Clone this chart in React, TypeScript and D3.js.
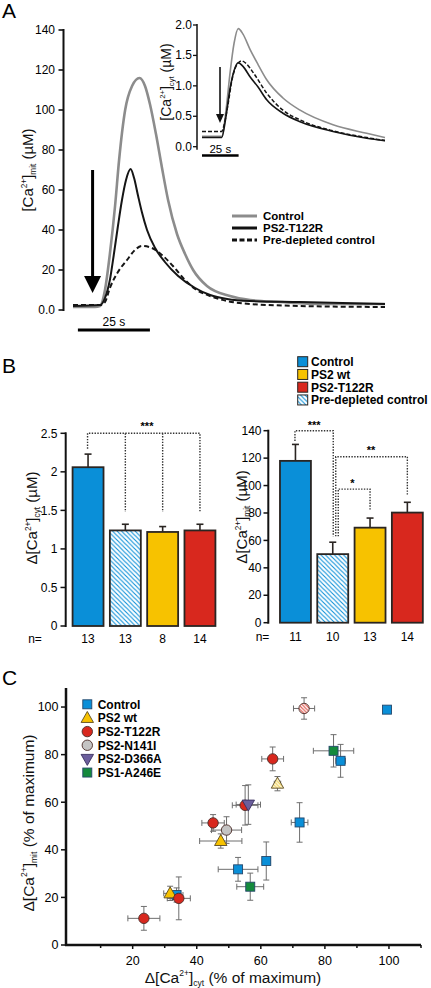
import React from 'react';
import * as d3 from 'd3';

const FONT = "'Liberation Sans', Arial, Helvetica, sans-serif";

// ---------- Panel A: mitochondrial Ca2+ traces (time s, µM) ----------
const mitControl: [number, number][] = [[0,1.5],[7.6,1.5],[9.4,2],[11.1,10],[12.8,28],[14.6,52],[16,75],[18.1,100],[20.5,112],[23.1,116],[25,112],[26.7,103],[28.8,88],[30.9,71],[33,55],[36.1,38],[38.9,28],[41.7,20],[46.5,12],[54.5,7],[61.5,5],[71.9,4],[85.8,3],[108.3,3]];
const mitT122R: [number, number][] = [[0,2],[9.4,2.5],[11.1,6],[12.8,15],[14.2,28],[15.6,42],[17,55],[18.4,65],[20,70.5],[21.2,66],[22.6,57],[23.9,49],[25.7,40],[28.5,31],[31.9,24],[36.5,17],[42.4,11],[47.6,7.5],[53.5,5.5],[61.5,4.5],[78.8,4],[108.3,3]];
const mitPredepleted: [number, number][] = [[0,2.5],[9.4,2.5],[11.1,4],[12.8,11],[15.6,19],[18.75,25],[21.5,30],[23.9,32],[27.4,31],[31.3,27],[34.7,22],[38.9,15],[42.4,10.5],[47.6,7],[59,3.3],[78.8,2],[108.3,1.5]];
const mitTicks = [0, 20, 40, 60, 80, 100, 120, 140];

// ---------- Panel A inset: cytosolic Ca2+ traces (time s, µM) ----------
const cytControl: [number, number][] = [[0,0.17],[13.5,0.17],[16.4,0.6],[19.1,1.2],[21.9,1.7],[24.8,1.94],[28,1.85],[32.8,1.6],[38.3,1.35],[44.2,1.1],[55.3,0.8],[67,0.6],[89.5,0.36],[112.5,0.22],[125,0.15]];
const cytT122R: [number, number][] = [[0,0.15],[13.5,0.15],[16.4,0.5],[19.1,0.95],[21.9,1.25],[24.8,1.38],[28,1.32],[32.8,1.15],[38.3,0.98],[44.2,0.77],[55.3,0.55],[67,0.41],[89.5,0.25],[112.5,0.14],[125,0.1]];
const cytPredepleted: [number, number][] = [[0,0.25],[13.5,0.25],[15,0.35],[17.8,0.7],[20.5,1.1],[23.9,1.35],[27.1,1.41],[30,1.37],[35.5,1.2],[44.2,0.88],[55.3,0.6],[67,0.44],[89.5,0.26],[112.5,0.15],[125,0.1]];
const cytTicks = [0, 0.5, 1, 1.5, 2];
const legendA = ['Control', 'PS2-T122R', 'Pre-depleted control'];

// ---------- Panel B: bar charts ----------
const bCategories = ['Control', 'Pre-depleted control', 'PS2 wt', 'PS2-T122R'];
const cytMeans = [2.06, 1.24, 1.22, 1.24];
const cytErrs = [0.17, 0.08, 0.07, 0.08];
const cytN = [13, 13, 8, 14];
const cytBarTicks = [0, 0.5, 1, 1.5, 2, 2.5];
const mitMeans = [118, 50, 69.3, 80.3];
const mitErrs = [12, 8.7, 7, 7.5];
const mitN = [11, 10, 13, 14];
const mitBarTicks = [0, 20, 40, 60, 80, 100, 120, 140];
const legendB = ['Control', 'PS2 wt', 'PS2-T122R', 'Pre-depleted control'];

// ---------- Panel C: scatter [x, y, ex, ey] ----------
const cControl = [[99.4, 98.9, 0, 0], [84.9, 77.4, 1.5, 6.9], [72.1, 51.5, 2.6, 8.3], [61.7, 35.3, 1.2, 8], [52.9, 31.8, 6.2, 5], [33.7, 21, 2, 3]];
const cPS2wt = [[47.5, 43.7, 6.6, 3], [31.7, 21.7, 2, 3]];
const cPS2wtHatched = [[65.2, 67.8, 1, 3]];
const cT122R = [[63.7, 78.2, 3.4, 5], [55.1, 58.7, 4, 8.3], [45.1, 51.3, 3.5, 3.5], [34.4, 19.6, 3.6, 9], [23.5, 11.2, 5, 5]];
const cT122RHatched = [[73.5, 99.4, 3.3, 4.5]];
const cN141I = [[49.3, 48.3, 4.7, 5.6]];
const cD366A = [[56.1, 59, 3.8, 8.3]];
const cA246E = [[82.7, 81.6, 6.3, 6.8], [56.7, 24.5, 4.2, 5.7]];
const cYTicks = [0, 20, 40, 60, 80, 100];
const cXTicks = [20, 40, 60, 80, 100];
const cXMinor = [10, 30, 50, 70, 90, 110];
const legendC = ['Control', 'PS2 wt', 'PS2-T122R', 'PS2-N141I', 'PS2-D366A', 'PS1-A246E'];

const BLUE = '#0a8fd8';
const YELLOW = '#f7c200';
const RED = '#d8281e';
const GRAY_PT = '#c4c4c4';
const PURPLE = '#6b5e9c';
const GREEN = '#148a3c';
const OUT = '#2a2522';

function CaLabel({ x, y, size, pre = '', sub, post, rotate = false, anchor = 'middle' }: any) {
  const s = size;
  return (
    <text x={x} y={y} fontSize={s} fontFamily={FONT} textAnchor={anchor}
      transform={rotate ? `rotate(-90 ${x} ${y})` : undefined} fill="#111">
      {pre}[Ca
      <tspan dy={-s * 0.42} fontSize={s * 0.55}>2+</tspan>
      <tspan dy={s * 0.42}>]</tspan>
      <tspan dy={s * 0.22} fontSize={s * 0.55}>{sub}</tspan>
      <tspan dy={-s * 0.22}>{post}</tspan>
    </text>
  );
}

function Marker({ kind, x, y, fill }: any) {
  if (kind === 'square') return <rect x={x - 4.5} y={y - 4.5} width={9} height={9} fill={fill} stroke="#24476b" strokeWidth={0.9} />;
  if (kind === 'circle') return <circle cx={x} cy={y} r={5.2} fill={fill} stroke="#4a2a26" strokeWidth={0.9} />;
  if (kind === 'up') return <path d={`M${x},${y - 6.5}L${x + 6.2},${y + 4.5}L${x - 6.2},${y + 4.5}Z`} fill={fill} stroke="#5a4a20" strokeWidth={0.9} />;
  if (kind === 'down') return <path d={`M${x},${y + 6.5}L${x + 6.2},${y - 4.5}L${x - 6.2},${y - 4.5}Z`} fill={fill} stroke="#3a3060" strokeWidth={0.9} />;
  return null;
}

export default function App() {
  // ---- Panel A scales ----
  const ax = d3.scaleLinear().domain([0, 108.3]).range([73, 385]);
  const ay = d3.scaleLinear().domain([0, 140]).range([310, 30]);
  const ix = d3.scaleLinear().domain([0, 125]).range([202, 385]);
  const iy = d3.scaleLinear().domain([0, 2]).range([146.7, 25]);
  const lineA = d3.line<[number, number]>().x(d => ax(d[0])).y(d => ay(d[1])).curve(d3.curveMonotoneX);
  const lineI = d3.line<[number, number]>().x(d => ix(d[0])).y(d => iy(d[1])).curve(d3.curveMonotoneX);

  const arrowX = ax(6.8), arrowTop = ay(70), arrowTip = ay(8.5);
  const iArrowX = ix(12.3), iArrowTop = iy(1.31), iArrowTip = iy(0.39);

  // ---- Panel B scales ----
  const bx1 = d3.scaleBand().domain(bCategories).range([69.4, 218.6]).paddingInner(0.17).paddingOuter(0.085);
  const by1 = d3.scaleLinear().domain([0, 2.5]).range([626, 433.3]);
  const bx2 = d3.scaleBand().domain(bCategories).range([276.8, 426]).paddingInner(0.17).paddingOuter(0.085);
  const by2 = d3.scaleLinear().domain([0, 140]).range([622.7, 430.7]);
  const fills = [BLUE, 'url(#hatchBlue)', YELLOW, RED];
  const c1 = (i: number) => (bx1(bCategories[i]) as number) + bx1.bandwidth() / 2;
  const c2 = (i: number) => (bx2(bCategories[i]) as number) + bx2.bandwidth() / 2;

  // ---- Panel C scales ----
  const cx = d3.scaleLinear().domain([0, 110]).range([68.6, 421]);
  const cy = d3.scaleLinear().domain([0, 108]).range([945, 688]);

  const dotted = { stroke: '#333', strokeWidth: 1.4, strokeDasharray: '1.4,1.4', fill: 'none' };

  const errBars = (pts: number[][], key: string) => pts.map((p, i) => {
    const [x, y, ex, ey] = p;
    const col = '#6e6e6e';
    return (
      <g key={key + i} stroke={col} strokeWidth={1}>
        {ex > 0 && <>
          <line x1={cx(x - ex)} x2={cx(x + ex)} y1={cy(y)} y2={cy(y)} />
          <line x1={cx(x - ex)} x2={cx(x - ex)} y1={cy(y) - 3} y2={cy(y) + 3} />
          <line x1={cx(x + ex)} x2={cx(x + ex)} y1={cy(y) - 3} y2={cy(y) + 3} />
        </>}
        {ey > 0 && <>
          <line x1={cx(x)} x2={cx(x)} y1={cy(y - ey)} y2={cy(y + ey)} />
          <line x1={cx(x) - 3} x2={cx(x) + 3} y1={cy(y - ey)} y2={cy(y - ey)} />
          <line x1={cx(x) - 3} x2={cx(x) + 3} y1={cy(y + ey)} y2={cy(y + ey)} />
        </>}
      </g>
    );
  });

  const allPts = [cA246E, cControl, cN141I, cPS2wt, cPS2wtHatched, cT122R, cT122RHatched, cD366A];

  return (
    <svg width={431} height={988} viewBox="0 0 431 988" style={{ position: 'absolute', left: 0, top: 0, background: '#fff' }}>
      <defs>
        <pattern id="hatchBlue" patternUnits="userSpaceOnUse" width={4.5} height={4.5}>
          <rect width={4.5} height={4.5} fill="#fff" />
          <path d="M-1,-1L5.5,5.5M-1,3.5L1,5.5M3.5,-1L5.5,1" stroke={BLUE} strokeWidth={1.1} />
        </pattern>
        <pattern id="hatchRed" patternUnits="userSpaceOnUse" width={3.5} height={3.5}>
          <rect width={3.5} height={3.5} fill="#fff" />
          <path d="M-1,-1L4.5,4.5M-1,2.5L1,4.5M2.5,-1L4.5,1" stroke="#e05a50" strokeWidth={1.1} />
        </pattern>
        <pattern id="hatchYellow" patternUnits="userSpaceOnUse" width={3.5} height={3.5}>
          <rect width={3.5} height={3.5} fill="#fffbe0" />
          <path d="M-1,-1L4.5,4.5M-1,2.5L1,4.5M2.5,-1L4.5,1" stroke="#f0d060" strokeWidth={1.1} />
        </pattern>
      </defs>

      {/* ================= Panel A ================= */}
      <text x={2} y={18} fontSize={21} fontFamily={FONT}>A</text>
      <line x1={63.5} x2={63.5} y1={ay(140) - 1} y2={ay(0) + 1} stroke="#111" strokeWidth={2} />
      {mitTicks.map(t => (
        <g key={'mt' + t}>
          <line x1={58.5} x2={63.5} y1={ay(t)} y2={ay(t)} stroke="#111" strokeWidth={1.6} />
          <text x={55} y={ay(t) + 4.2} fontSize={12} fontFamily={FONT} textAnchor="end">{t === 0 ? '0.0' : t}</text>
        </g>
      ))}
      <CaLabel x={33} y={170} size={15} sub="mit" post=" (µM)" rotate />

      <path d={lineA(mitControl) as string} fill="none" stroke="#8c8c8c" strokeWidth={2.6} />
      <path d={lineA(mitPredepleted) as string} fill="none" stroke="#151515" strokeWidth={2} strokeDasharray="5,3" />
      <path d={lineA(mitT122R) as string} fill="none" stroke="#151515" strokeWidth={2} />

      <line x1={arrowX} x2={arrowX} y1={arrowTop} y2={arrowTip - 15} stroke="#000" strokeWidth={3} />
      <path d={`M${arrowX},${arrowTip}L${arrowX - 8.5},${arrowTip - 17}L${arrowX + 8.5},${arrowTip - 17}Z`} fill="#000" />
      <line x1={ax(1.7)} x2={ax(26.7)} y1={330} y2={330} stroke="#000" strokeWidth={3} />
      <text x={(ax(1.7) + ax(26.7)) / 2} y={326} fontSize={12} fontFamily={FONT} textAnchor="middle">25 s</text>

      {/* Inset */}
      <line x1={197} x2={197} y1={iy(2) - 1} y2={iy(-0.05)} stroke="#111" strokeWidth={1.5} />
      {cytTicks.map(t => (
        <g key={'ct' + t}>
          <line x1={193} x2={197} y1={iy(t)} y2={iy(t)} stroke="#111" strokeWidth={1.3} />
          <text x={192} y={iy(t) + 4} fontSize={12} fontFamily={FONT} textAnchor="end">{d3.format('.1f')(t)}</text>
        </g>
      ))}
      <CaLabel x={171} y={82} size={14} sub="cyt" post=" (µM)" rotate />
      <path d={lineI(cytControl) as string} fill="none" stroke="#8c8c8c" strokeWidth={1.6} />
      <path d={lineI(cytPredepleted) as string} fill="none" stroke="#151515" strokeWidth={1.5} strokeDasharray="4,2" />
      <path d={lineI(cytT122R) as string} fill="none" stroke="#151515" strokeWidth={1.6} />
      <line x1={iArrowX} x2={iArrowX} y1={iArrowTop} y2={iArrowTip - 8} stroke="#111" strokeWidth={1.6} />
      <path d={`M${iArrowX},${iArrowTip}L${iArrowX - 4},${iArrowTip - 9}L${iArrowX + 4},${iArrowTip - 9}Z`} fill="#111" />
      <line x1={ix(0)} x2={ix(25)} y1={155.5} y2={155.5} stroke="#000" strokeWidth={2.5} />
      <text x={(ix(0) + ix(25)) / 2} y={152.5} fontSize={11.5} fontFamily={FONT} textAnchor="middle">25 s</text>

      {/* Legend A */}
      {legendA.map((name, i) => {
        const y = 216 + i * 12;
        return (
          <g key={name}>
            <line x1={232} x2={257} y1={y} y2={y} stroke={i === 0 ? '#8c8c8c' : '#111'} strokeWidth={3}
              strokeDasharray={i === 2 ? '5,2.5' : undefined} />
            <text x={263} y={y + 4} fontSize={11.5} fontWeight="bold" fontFamily={FONT}>{name}</text>
          </g>
        );
      })}

      {/* ================= Panel B ================= */}
      <text x={2} y={373} fontSize={21} fontFamily={FONT}>B</text>

      {/* Left bar chart */}
      <line x1={65.7} x2={65.7} y1={by1(2.5) - 1} y2={by1(0) + 1} stroke="#111" strokeWidth={2} />
      {cytBarTicks.map(t => (
        <g key={'bt' + t}>
          <line x1={60.5} x2={65.7} y1={by1(t)} y2={by1(t)} stroke="#111" strokeWidth={1.5} />
          <text x={57.5} y={by1(t) + 4.2} fontSize={12} fontFamily={FONT} textAnchor="end">{t}</text>
        </g>
      ))}
      <CaLabel x={37} y={518} size={15} pre="Δ" sub="cyt" post=" (µM)" rotate />
      <g>
        {cytMeans.map((m, i) => {
          const x0 = bx1(bCategories[i]) as number;
          const w = bx1.bandwidth();
          const xc = c1(i);
          return (
            <g key={'b1' + i}>
              <line x1={xc} x2={xc} y1={by1(m)} y2={by1(m + cytErrs[i])} stroke={OUT} strokeWidth={1.6} />
              <line x1={xc - 3.5} x2={xc + 3.5} y1={by1(m + cytErrs[i])} y2={by1(m + cytErrs[i])} stroke={OUT} strokeWidth={1.6} />
              <rect x={x0} y={by1(m)} width={w} height={by1(0) - by1(m)} fill={fills[i]} stroke={OUT} strokeWidth={1.8} />
              <text x={xc} y={643} fontSize={12} fontFamily={FONT} textAnchor="middle">{cytN[i]}</text>
            </g>
          );
        })}
      </g>
      <text x={35} y={643} fontSize={12} fontFamily={FONT} textAnchor="middle">n=</text>
      {/* significance left */}
      <path d={`M${c1(0) - 0.5},${by1(2.3)}V${by1(2.5)}H${c1(3)}V${by1(1.48)}M${c1(1)},${by1(2.5)}V${by1(1.48)}M${c1(2)},${by1(2.5)}V${by1(1.48)}`} {...dotted} />
      <text x={(c1(1) + c1(2)) / 2 + 3} y={by1(2.5) - 3} fontSize={11} fontWeight="bold" fontFamily={FONT} textAnchor="middle">***</text>

      {/* Right bar chart */}
      <line x1={268.3} x2={268.3} y1={by2(140) - 1} y2={by2(0) + 1} stroke="#111" strokeWidth={2} />
      {mitBarTicks.map(t => (
        <g key={'bt2' + t}>
          <line x1={263.5} x2={268.3} y1={by2(t)} y2={by2(t)} stroke="#111" strokeWidth={1.5} />
          <text x={261.5} y={by2(t) + 4.2} fontSize={12} fontFamily={FONT} textAnchor="end">{t}</text>
        </g>
      ))}
      <CaLabel x={247} y={517} size={15} pre="Δ" sub="mit" post=" (µM)" rotate />
      <g>
        {mitMeans.map((m, i) => {
          const x0 = bx2(bCategories[i]) as number;
          const w = bx2.bandwidth();
          const xc = c2(i);
          return (
            <g key={'b2' + i}>
              <line x1={xc} x2={xc} y1={by2(m)} y2={by2(m + mitErrs[i])} stroke={OUT} strokeWidth={1.6} />
              <line x1={xc - 3.5} x2={xc + 3.5} y1={by2(m + mitErrs[i])} y2={by2(m + mitErrs[i])} stroke={OUT} strokeWidth={1.6} />
              <rect x={x0} y={by2(m)} width={w} height={by2(0) - by2(m)} fill={fills[i]} stroke={OUT} strokeWidth={1.8} />
              <text x={xc} y={641} fontSize={12} fontFamily={FONT} textAnchor="middle">{mitN[i]}</text>
            </g>
          );
        })}
      </g>
      <text x={262.5} y={641} fontSize={12} fontFamily={FONT} textAnchor="middle">n=</text>
      {/* significance right */}
      <path d={`M${c2(0) - 0.5},${by2(132.5)}V${by2(140)}H${c2(1) + 0.5}V${by2(63)}`} {...dotted} />
      <path d={`M${c2(1) + 3},${by2(63)}V${by2(121)}H${c2(3)}V${by2(93.5)}`} {...dotted} />
      <path d={`M${c2(1) + 5.5},${by2(63)}V${by2(97.4)}H${c2(2)}V${by2(81.5)}`} {...dotted} />
      <text x={(c2(0) + c2(1)) / 2} y={by2(140) - 1.5} fontSize={11} fontWeight="bold" fontFamily={FONT} textAnchor="middle">***</text>
      <text x={(c2(1) + c2(3)) / 2 + 1} y={by2(121) - 2.5} fontSize={11} fontWeight="bold" fontFamily={FONT} textAnchor="middle">**</text>
      <text x={(c2(1) + c2(2)) / 2 + 1} y={by2(97.4) - 2.5} fontSize={11} fontWeight="bold" fontFamily={FONT} textAnchor="middle">*</text>

      {/* Legend B */}
      {legendB.map((name, i) => {
        const y = 361.7 + i * 12.75;
        const f = [BLUE, YELLOW, RED, 'url(#hatchBlue)'][i];
        return (
          <g key={'lb' + name}>
            <rect x={297.7} y={y - 5} width={10} height={10} fill={f} stroke={OUT} strokeWidth={1} />
            <text x={311} y={y + 4.3} fontSize={12} fontWeight="bold" fontFamily={FONT}>{name}</text>
          </g>
        );
      })}

      {/* ================= Panel C ================= */}
      <text x={2} y={685} fontSize={21} fontFamily={FONT}>C</text>
      <line x1={66} x2={66} y1={688} y2={946} stroke="#111" strokeWidth={2.5} />
      <line x1={65} x2={421} y1={945} y2={945} stroke="#111" strokeWidth={2.5} />
      {cYTicks.map(t => (
        <g key={'cy' + t}>
          <line x1={61} x2={66} y1={cy(t)} y2={cy(t)} stroke="#111" strokeWidth={1.5} />
          <text x={58.5} y={cy(t) + 4.3} fontSize={12.5} fontFamily={FONT} textAnchor="end">{t}</text>
        </g>
      ))}
      {cXTicks.map(t => (
        <g key={'cx' + t}>
          <line x1={cx(t)} x2={cx(t)} y1={945} y2={949} stroke="#111" strokeWidth={1.5} />
          <text x={cx(t)} y={965} fontSize={12.5} fontFamily={FONT} textAnchor="middle">{t}</text>
        </g>
      ))}
      {cXMinor.map(t => (
        <line key={'cxm' + t} x1={cx(t)} x2={cx(t)} y1={945} y2={948} stroke="#111" strokeWidth={1.5} />
      ))}
      <CaLabel x={233} y={983} size={15.5} pre="Δ" sub="cyt" post=" (% of maximum)" />
      <CaLabel x={33.5} y={823} size={15.5} pre="Δ" sub="mit" post=" (% of maximum)" rotate />

      {allPts.map((pts, k) => <g key={'eb' + k}>{errBars(pts, 'e' + k)}</g>)}
      {cA246E.map((p, i) => <Marker key={'g' + i} kind="square" x={cx(p[0])} y={cy(p[1])} fill={GREEN} />)}
      {cControl.map((p, i) => <Marker key={'b' + i} kind="square" x={cx(p[0])} y={cy(p[1])} fill={BLUE} />)}
      {cN141I.map((p, i) => <Marker key={'n' + i} kind="circle" x={cx(p[0])} y={cy(p[1])} fill={GRAY_PT} />)}
      {cPS2wt.map((p, i) => <Marker key={'y' + i} kind="up" x={cx(p[0])} y={cy(p[1])} fill={YELLOW} />)}
      {cPS2wtHatched.map((p, i) => <Marker key={'yh' + i} kind="up" x={cx(p[0])} y={cy(p[1])} fill="url(#hatchYellow)" />)}
      {cT122R.map((p, i) => <Marker key={'r' + i} kind="circle" x={cx(p[0])} y={cy(p[1])} fill={RED} />)}
      {cT122RHatched.map((p, i) => <Marker key={'rh' + i} kind="circle" x={cx(p[0])} y={cy(p[1])} fill="url(#hatchRed)" />)}
      {cD366A.map((p, i) => <Marker key={'p' + i} kind="down" x={cx(p[0])} y={cy(p[1])} fill={PURPLE} />)}

      {/* Legend C */}
      {legendC.map((name, i) => {
        const y = 704.3 + i * 13.65;
        const kinds = ['square', 'up', 'circle', 'circle', 'down', 'square'];
        const cols = [BLUE, YELLOW, RED, GRAY_PT, PURPLE, GREEN];
        return (
          <g key={'lc' + name}>
            <Marker kind={kinds[i]} x={87.3} y={y} fill={cols[i]} />
            <text x={97.7} y={y + 4.3} fontSize={12} fontWeight="bold" fontFamily={FONT}>{name}</text>
          </g>
        );
      })}
    </svg>
  );
}
